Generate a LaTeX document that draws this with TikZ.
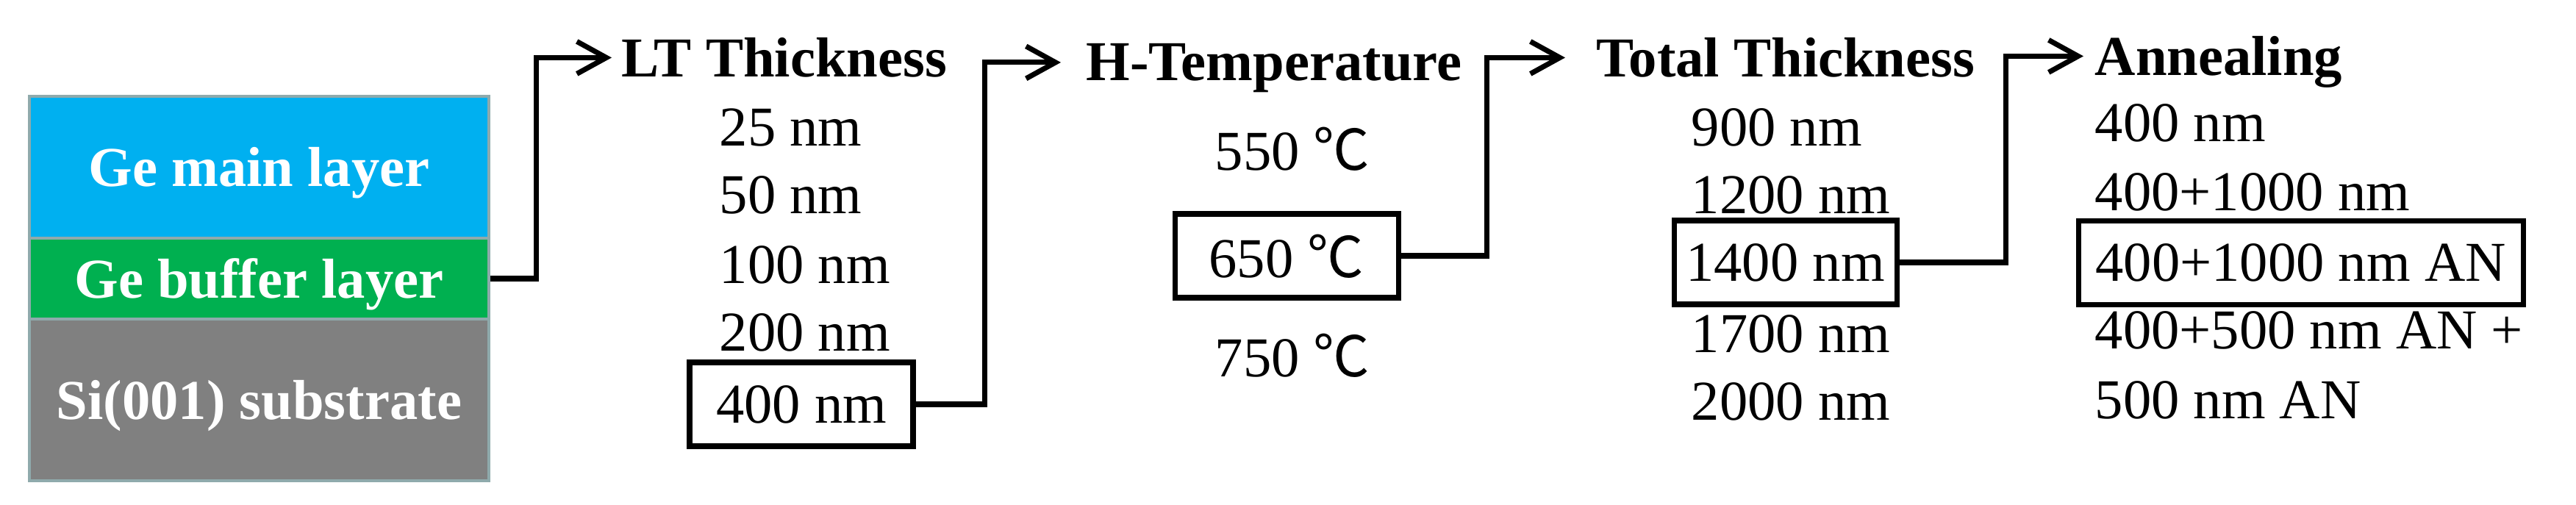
\documentclass[tikz,border=0pt]{standalone}
\usepackage{fontspec}
\setmainfont{Liberation Serif}
\newfontfamily\cjk{Noto Sans CJK SC}
\usetikzlibrary{arrows.meta}

\definecolor{mainblue}{RGB}{0,176,240}
\definecolor{buffergreen}{RGB}{0,176,80}
\definecolor{subgray}{RGB}{128,128,128}
\definecolor{edgegray}{RGB}{143,170,172}

\newcommand{\degc}{{\cjk\fontsize{21.8}{26}\selectfont ℃}}

\tikzset{
  every node/.style={inner sep=0pt, font=\fontsize{21.8}{26}\selectfont},
  layer/.style={draw=edgegray, line width=1pt, minimum width=6.25cm, text=white,
    font=\fontsize{21.8}{26}\selectfont\bfseries, text depth=0pt},
  head/.style={anchor=base west, font=\fontsize{21.8}{26}\selectfont\bfseries, text depth=0pt},
  item/.style={anchor=base west},
  chosen/.style={draw, line width=2pt, minimum height=1.14cm, text depth=0pt},
  flow/.style={line width=2pt, -{Straight Barb[length=0.4cm, width=0.44cm]}},
}

\begin{document}
\begin{tikzpicture}
%\draw [help lines] (0,0) grid (35, 7);
\useasboundingbox (0,0) rectangle (35.04,6.87);

% layer stack
\node [layer, fill=mainblue, minimum height=1.93cm] (main) at (3.525,4.597) {Ge main layer};
\node [layer, fill=buffergreen, minimum height=1.10cm] (buffer) at (3.525,3.08) {Ge buffer layer};
\node [layer, fill=subgray, minimum height=2.20cm] (sub) at (3.525,1.43) {Si(001) substrate};

% LT thickness
\node [head] (lt) at (8.45,5.82) {LT Thickness};
\node [item] (lt25) at (9.78,4.88) {25 nm};
\node [item] (lt50) at (9.78,3.96) {50 nm};
\node [item] (lt100) at (9.78,3.01) {100 nm};
\node [item] (lt200) at (9.78,2.09) {200 nm};
\node [chosen, minimum width=3.04cm] (lt400) at (10.90,1.37) {400 nm};

% H temperature
\node [head] (ht) at (14.77,5.77) {H-Temperature};
\node [item] (ht550) at (16.52,4.55) {550 \degc};
\node [chosen, minimum width=3.04cm] (ht650) at (17.50,3.39) {650 \degc};
\node [item] (ht750) at (16.52,1.74) {750 \degc};

% total thickness
\node [head] (tt) at (21.71,5.82) {Total Thickness};
\node [item] (tt900) at (23.00,4.88) {900 nm};
\node [item] (tt1200) at (23.00,3.96) {1200 nm};
\node [chosen, minimum width=3.03cm] (tt1400) at (24.285,3.30) {1400 nm};
\node [item] (tt1700) at (23.00,2.07) {1700 nm};
\node [item] (tt2000) at (23.00,1.15) {2000 nm};

% annealing
\node [head] (an) at (28.49,5.84) {Annealing};
\node [item] (an1) at (28.49,4.94) {400 nm};
\node [item] (an2) at (28.49,4.00) {400+1000 nm};
\node [chosen, minimum width=6.05cm] (an3) at (31.295,3.295) {400+1000 nm AN};
\node [item] (an4) at (28.49,2.12) {400+500 nm AN +};
\node [item] (an5) at (28.49,1.17) {500 nm AN};

% steps
\draw [flow, shorten >=0.13cm] (buffer.east) -- ++(0.63,0) |- (lt.west);
\draw [flow, shorten >=0.34cm] (lt400.east) -- ++(0.94,0) |- (ht.west);
\draw [flow, shorten >=0.42cm] (ht650.east) -- ++(1.17,0) |- (tt.west);
\draw [flow, shorten >=0.15cm] (tt1400.east) -- ++(1.45,0) |- (an.west);

\end{tikzpicture}
\end{document}
